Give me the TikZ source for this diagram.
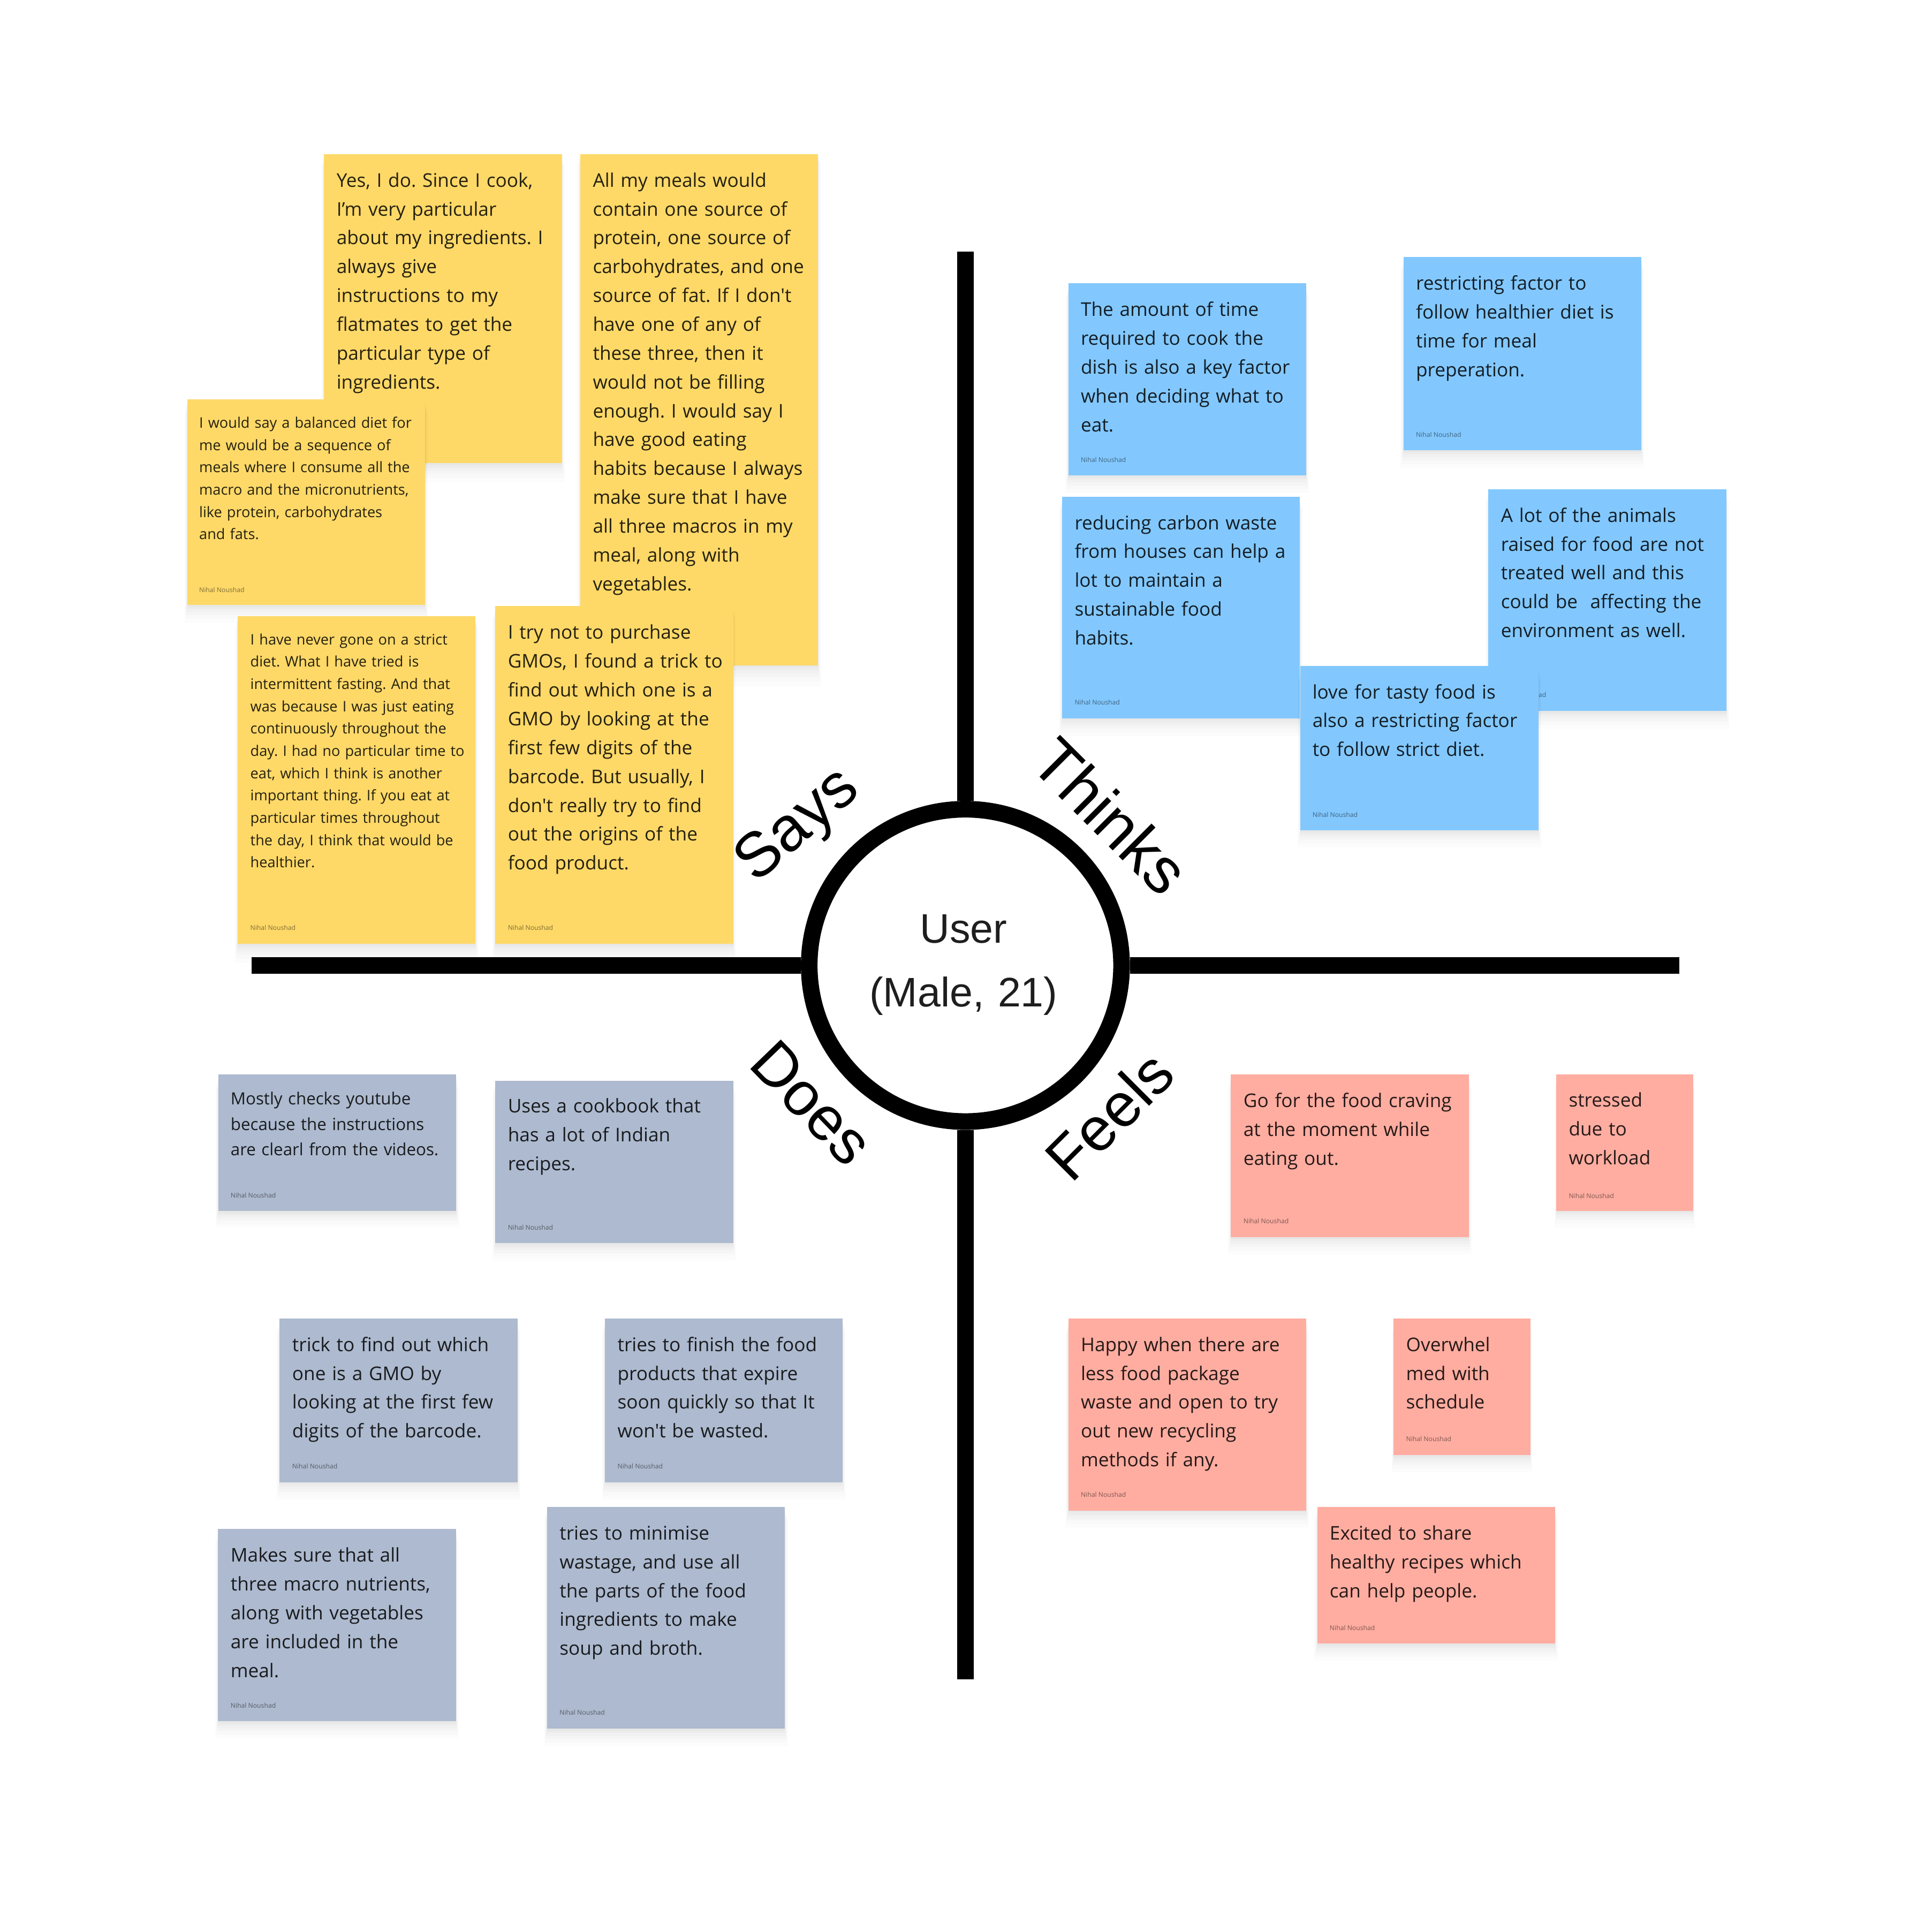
\documentclass[tikz,border=0pt]{standalone}
\usepackage{fontspec}
\newfontfamily\notefont{Open Sans}
\newfontfamily\labelfont{Liberation Sans}
\usetikzlibrary{shadows}
\definecolor{stkyellow}{HTML}{FED968}
\definecolor{stkblue}{HTML}{82C8FE}
\definecolor{stkgrey}{HTML}{ADBACF}
\definecolor{stkred}{HTML}{FFADA1}
\definecolor{inktext}{HTML}{1E1E1E}
\frenchspacing
\begin{document}
\frenchspacing
\begin{tikzpicture}[x=1pt,y=-1pt,
  notebg/.style={rectangle, draw=none, inner sep=0pt, outer sep=0pt, anchor=north west, minimum width=193pt,
    drop shadow={shadow xshift=0pt, shadow yshift=-1.5pt, opacity=0.018, fill=black, shadow scale=1},
    drop shadow={shadow xshift=0pt, shadow yshift=-3pt, opacity=0.018, fill=black, shadow scale=1.004},
    drop shadow={shadow xshift=0pt, shadow yshift=-5pt, opacity=0.016, fill=black, shadow scale=1.008},
    drop shadow={shadow xshift=0pt, shadow yshift=-7pt, opacity=0.014, fill=black, shadow scale=1.012},
    drop shadow={shadow xshift=0pt, shadow yshift=-9.5pt, opacity=0.012, fill=black, shadow scale=1.018},
    drop shadow={shadow xshift=0pt, shadow yshift=-12pt, opacity=0.01, fill=black, shadow scale=1.024}},
  ntxt/.style={anchor=base west, inner sep=0pt, text width=260pt, align=left, text=black, text opacity=0.85,
    font=\notefont\frenchspacing\fontsize{15.3}{23.4}\selectfont},
  ntxts/.style={ntxt, font=\notefont\frenchspacing\fontsize{11.8}{18.1}\selectfont},
  ntxtm/.style={ntxt, font=\notefont\frenchspacing\fontsize{13.6}{20.8}\selectfont},
  nauth/.style={anchor=base west, inner sep=0pt, text=black, text opacity=0.5, font=\notefont\fontsize{5.3}{6}\selectfont},
  axlabel/.style={anchor=center, inner sep=0pt, text=black, font=\labelfont\fontsize{50}{60}\selectfont},
  axis/.style={line width=13.5pt, black}
]
\useasboundingbox (0,0) rectangle (1568,1568);
\fill[white] (0,0) rectangle (1568,1568);

% ---------- Says (yellow) ----------
\node[notebg, fill=stkyellow, minimum height=251pt] (nA) at (263,125) {};
\node[ntxt] (nAt) at (273,151.7) {Yes, I do. Since I cook,\\I’m very particular\\about my ingredients. I\\always give\\instructions to my\\flatmates to get the\\particular type of\\ingredients.};

\node[notebg, fill=stkyellow, minimum height=167pt] (nB) at (152,324) {};
\node[ntxts] (nBt) at (161.5,347.3) {I would say a balanced diet for\\me would be a sequence of\\meals where I consume all the\\macro and the micronutrients,\\like protein, carbohydrates\\and fats.};
\node[nauth] (nBa) at (161.5,480.8) {Nihal Noushad};

\node[notebg, fill=stkyellow, minimum height=415pt] (nC) at (471,125) {};
\node[ntxt] (nCt) at (481,151.7) {All my meals would\\contain one source of\\protein, one source of\\carbohydrates, and one\\source of fat. If I don't\\have one of any of\\these three, then it\\would not be filling\\enough. I would say I\\have good eating\\habits because I always\\make sure that I have\\all three macros in my\\meal, along with\\vegetables.};

\node[notebg, fill=stkyellow, minimum height=274pt] (nE) at (402,492) {};
\node[ntxt] (nEt) at (412,518.7) {I try not to purchase\\GMOs, I found a trick to\\find out which one is a\\GMO by looking at the\\first few digits of the\\barcode. But usually, I\\don't really try to find\\out the origins of the\\food product.};
\node[nauth] (nEa) at (412,755) {Nihal Noushad};

\node[notebg, fill=stkyellow, minimum height=266pt] (nD) at (193,500) {};
\node[ntxts] (nDt) at (203,523.2) {I have never gone on a strict\\diet. What I have tried is\\intermittent fasting. And that\\was because I was just eating\\continuously throughout the\\day. I had no particular time to\\eat, which I think is another\\important thing. If you eat at\\particular times throughout\\the day, I think that would be\\healthier.};
\node[nauth] (nDa) at (203,755) {Nihal Noushad};

% ---------- Thinks (blue) ----------
\node[notebg, fill=stkblue, minimum height=156pt] (t1) at (867,230) {};
\node[ntxt] (t1t) at (877,256.7) {The amount of time\\required to cook the\\dish is also a key factor\\when deciding what to\\eat.};
\node[nauth] (t1a) at (877,375) {Nihal Noushad};

\node[notebg, fill=stkblue, minimum height=157pt] (t2) at (1139,208.5) {};
\node[ntxt] (t2t) at (1149,235.3) {restricting factor to\\follow healthier diet is\\time for meal\\preperation.};
\node[nauth] (t2a) at (1149,354.8) {Nihal Noushad};

\node[notebg, fill=stkblue, minimum height=180pt] (t3) at (862,403) {};
\node[ntxt] (t3t) at (872,429.7) {reducing carbon waste\\from houses can help a\\lot to maintain a\\sustainable food\\habits.};
\node[nauth] (t3a) at (872,572) {Nihal Noushad};

\node[notebg, fill=stkblue, minimum height=180pt] (t4) at (1208,397) {};
\node[ntxt] (t4t) at (1218,423.7) {A lot of the animals\\raised for food are not\\treated well and this\\could be\ \ affecting the\\environment as well.};
\node[nauth] (t4a) at (1218,566) {Nihal Noushad};

\node[notebg, fill=stkblue, minimum height=133.5pt] (t5) at (1055.5,540.5) {};
\node[ntxt] (t5t) at (1065,567) {love for tasty food is\\also a restricting factor\\to follow strict diet.};
\node[nauth] (t5a) at (1065,663) {Nihal Noushad};

% ---------- Does (grey) ----------
\node[notebg, fill=stkgrey, minimum height=111pt] (d1) at (177.3,871.8) {};
\node[ntxtm] (d1t) at (187,896.4) {Mostly checks youtube\\because the instructions\\are clearl from the videos.};
\node[nauth] (d1a) at (187,972.3) {Nihal Noushad};

\node[notebg, fill=stkgrey, minimum height=132pt] (d2) at (402,877) {};
\node[ntxt] (d2t) at (412,903) {Uses a cookbook that\\has a lot of Indian\\recipes.};
\node[nauth] (d2a) at (412,998) {Nihal Noushad};

\node[notebg, fill=stkgrey, minimum height=133pt] (d3) at (227,1070) {};
\node[ntxt] (d3t) at (237,1096.7) {trick to find out which\\one is a GMO by\\looking at the first few\\digits of the barcode.};
\node[nauth] (d3a) at (237,1192) {Nihal Noushad};

\node[notebg, fill=stkgrey, minimum height=133pt] (d4) at (491,1070) {};
\node[ntxt] (d4t) at (501,1096.7) {tries to finish the food\\products that expire\\soon quickly so that It\\won't be wasted.};
\node[nauth] (d4a) at (501,1192) {Nihal Noushad};

\node[notebg, fill=stkgrey, minimum height=156pt] (d5) at (177,1241) {};
\node[ntxt] (d5t) at (187,1267.7) {Makes sure that all\\three macro nutrients,\\along with vegetables\\are included in the\\meal.};
\node[nauth] (d5a) at (187,1386) {Nihal Noushad};

\node[notebg, fill=stkgrey, minimum height=180pt] (d6) at (444,1223) {};
\node[ntxt] (d6t) at (454,1249.7) {tries to minimise\\wastage, and use all\\the parts of the food\\ingredients to make\\soup and broth.};
\node[nauth] (d6a) at (454,1392) {Nihal Noushad};

% ---------- Feels (red) ----------
\node[notebg, fill=stkred, minimum height=132pt] (f1) at (999,872) {};
\node[ntxt] (f1t) at (1009,898.7) {Go for the food craving\\at the moment while\\eating out.};
\node[nauth] (f1a) at (1009,993) {Nihal Noushad};

\node[notebg, fill=stkred, minimum width=111pt, minimum height=110.8pt] (f2) at (1263,871.8) {};
\node[ntxt] (f2t) at (1273,898.2) {stressed\\due to\\workload};
\node[nauth] (f2a) at (1273,972.5) {Nihal Noushad};

\node[notebg, fill=stkred, minimum height=156pt] (f3) at (867,1070) {};
\node[ntxt] (f3t) at (877,1096.7) {Happy when there are\\less food package\\waste and open to try\\out new recycling\\methods if any.};
\node[nauth] (f3a) at (877,1215) {Nihal Noushad};

\node[notebg, fill=stkred, minimum width=111pt, minimum height=111pt] (f4) at (1131,1070) {};
\node[ntxt] (f4t) at (1141,1096.7) {Overwhel\\med with\\schedule};
\node[nauth] (f4a) at (1141,1170) {Nihal Noushad};

\node[notebg, fill=stkred, minimum height=111pt] (f5) at (1069,1223) {};
\node[ntxt] (f5t) at (1079,1249.7) {Excited to share\\healthy recipes which\\can help people.};
\node[nauth] (f5a) at (1079,1323) {Nihal Noushad};

% ---------- axes and centre ----------
\coordinate (axL) at (204,783.5);
\coordinate (axR) at (1363,783.5);
\coordinate (axT) at (783.5,204);
\coordinate (axB) at (783.5,1363);
\node[circle, draw=black, line width=13.5pt, fill=white, minimum size=253.5pt, inner sep=0pt] (hub) at (783.5,783.5) {};
\draw[axis] (axL) -- (hub);
\draw[axis] (hub) -- (axR);
\draw[axis] (axT) -- (hub);
\draw[axis] (hub) -- (axB);

\node[anchor=base, inner sep=0pt, text width=158pt, align=center, text=inktext,
  font=\labelfont\fontsize{33.5}{51.4}\selectfont] (user) at (782,765.4) {User\\(Male, 21)};

\node[axlabel, font=\labelfont\fontsize{51}{60}\selectfont, rotate=41] (lsays) at (648.4,671) {Says};
\node[axlabel, font=\labelfont\fontsize{52}{60}\selectfont, rotate=-45] (lthinks) at (901.5,662.2) {Thinks};
\node[axlabel, rotate=-46] (ldoes) at (658.9,895) {Does};
\node[axlabel, rotate=45] (lfeels) at (900,905.2) {Feels};
\end{tikzpicture}
\end{document}
